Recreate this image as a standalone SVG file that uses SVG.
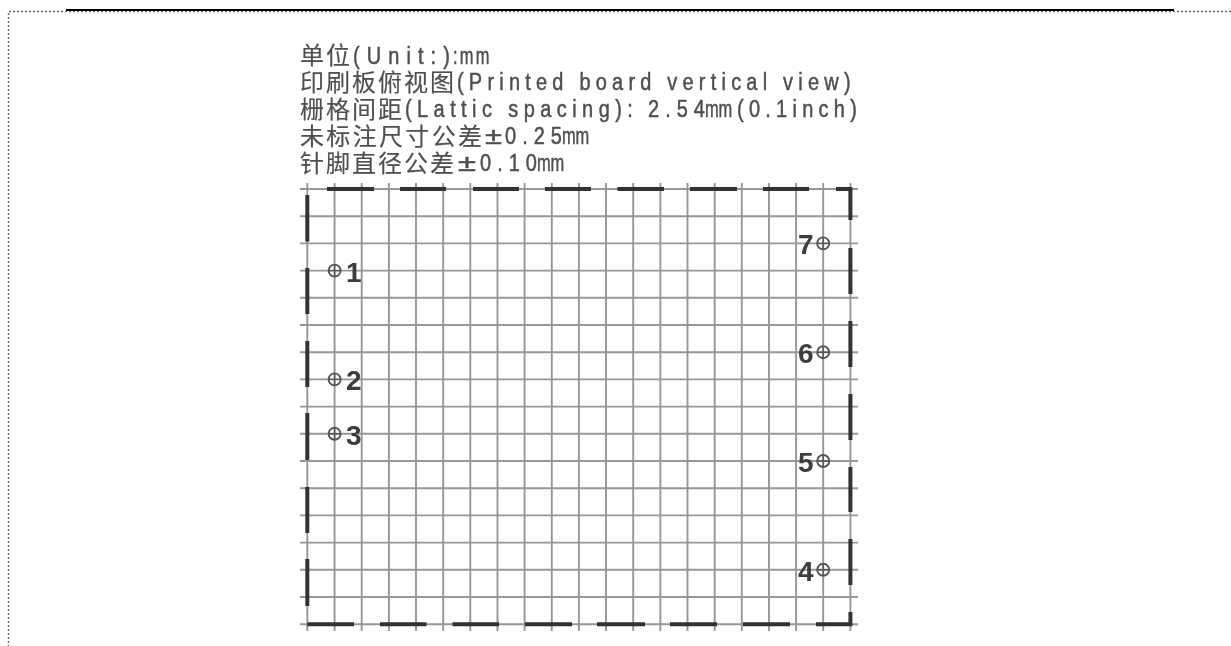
<svg xmlns="http://www.w3.org/2000/svg" width="1231" height="646" viewBox="0 0 1231 646">
<style>
.bg{fill:#fff}
.dot{stroke:#666;stroke-width:1.4;stroke-dasharray:2 2;fill:none}
.top{stroke:#000;stroke-width:2;fill:none}
.grid line{stroke:#97979b;stroke-width:1.9}
.dash{stroke:#333;stroke-width:4;fill:none}
.t{fill:#505050;stroke:#505050;stroke-width:.15}
.c{font-family:"Noto Sans CJK SC",sans-serif;font-size:24px}
.l{font-family:"Liberation Sans",sans-serif;font-size:23.5px;stroke-width:.5}
.n{font-family:"Liberation Sans",sans-serif;font-weight:bold;font-size:28px;fill:#3c3c3c}
.pin circle{fill:none;stroke:#555;stroke-width:1.9}
.pin path{stroke:#555;stroke-width:1.4;fill:none}
</style>
<defs>
<filter id="b" x="-5%" y="-5%" width="110%" height="110%"><feGaussianBlur stdDeviation="0.55"/></filter>
<g id="p" class="pin"><circle r="6"/><path d="M-6 0H6M0-6V6"/></g>
</defs>
<rect class="bg" width="1231" height="646"/>
<g id="page">
<path class="dot" d="M1231 11.500H8.500V646"/>
<path class="top" d="M66 10H1174"/>
</g>
<g filter="url(#b)">
<g id="notes" class="t">
<text class="c" x="300" y="64" textLength="50">单位</text>
<text class="l" transform="translate(353 64) scale(.85 1)" textLength="114">(Unit:)</text>
<text class="l" transform="translate(453 64) scale(.7 1)" textLength="52">:mm</text>
<text class="c" x="300" y="91" textLength="154">印刷板俯视图</text>
<text class="l" transform="translate(457 90) scale(.85 1)" textLength="463">(Printed board vertical view)</text>
<text class="c" x="300" y="118" textLength="102">栅格间距</text>
<text class="l" transform="translate(405 117) scale(.85 1)" textLength="268">(Lattic spacing):</text>
<text class="l" transform="translate(648 117) scale(.85 1)" textLength="67">2.54</text>
<text class="l" transform="translate(705 117) scale(.7 1)" textLength="39">mm</text>
<text class="l" transform="translate(737 117) scale(.85 1)" textLength="141">(0.1inch)</text>
<text class="c" x="300" y="145" textLength="182">未标注尺寸公差</text>
<text class="l" x="485" y="144" textLength="17" lengthAdjust="spacingAndGlyphs">±</text>
<text class="l" transform="translate(505 144) scale(.85 1)" textLength="67">0.25</text>
<text class="l" transform="translate(562 144) scale(.7 1)" textLength="39">mm</text>
<text class="c" x="300" y="172" textLength="154">针脚直径公差</text>
<text class="l" x="458" y="171" textLength="18" lengthAdjust="spacingAndGlyphs">±</text>
<text class="l" transform="translate(480 171) scale(.85 1)" textLength="67">0.10</text>
<text class="l" transform="translate(537 171) scale(.7 1)" textLength="39">mm</text>
</g>
<g id="grid" class="grid">
<line x1="307.3" x2="307.3" y1="183" y2="631"/><line x1="334.6" x2="334.6" y1="183" y2="631"/><line x1="361.7" x2="361.7" y1="183" y2="631"/><line x1="388.9" x2="388.9" y1="183" y2="631"/><line x1="416" x2="416" y1="183" y2="631"/><line x1="443.2" x2="443.2" y1="183" y2="631"/><line x1="470.3" x2="470.3" y1="183" y2="631"/><line x1="497.5" x2="497.5" y1="183" y2="631"/><line x1="524.6" x2="524.6" y1="183" y2="631"/><line x1="551.8" x2="551.8" y1="183" y2="631"/><line x1="578.9" x2="578.9" y1="183" y2="631"/><line x1="606" x2="606" y1="183" y2="631"/><line x1="633.2" x2="633.2" y1="183" y2="631"/><line x1="660.4" x2="660.4" y1="183" y2="631"/><line x1="687.5" x2="687.5" y1="183" y2="631"/><line x1="714.7" x2="714.7" y1="183" y2="631"/><line x1="741.8" x2="741.8" y1="183" y2="631"/><line x1="769" x2="769" y1="183" y2="631"/><line x1="796.1" x2="796.1" y1="183" y2="631"/><line x1="823.2" x2="823.2" y1="183" y2="631"/><line x1="850.4" x2="850.4" y1="183" y2="631"/>
<line x1="300" x2="858" y1="189" y2="189"/><line x1="300" x2="858" y1="216.2" y2="216.2"/><line x1="300" x2="858" y1="243.4" y2="243.4"/><line x1="300" x2="858" y1="270.6" y2="270.6"/><line x1="300" x2="858" y1="297.8" y2="297.8"/><line x1="300" x2="858" y1="325" y2="325"/><line x1="300" x2="858" y1="352.2" y2="352.2"/><line x1="300" x2="858" y1="379.4" y2="379.4"/><line x1="300" x2="858" y1="406.6" y2="406.6"/><line x1="300" x2="858" y1="433.8" y2="433.8"/><line x1="300" x2="858" y1="461" y2="461"/><line x1="300" x2="858" y1="488.2" y2="488.2"/><line x1="300" x2="858" y1="515.4" y2="515.4"/><line x1="300" x2="858" y1="542.6" y2="542.6"/><line x1="300" x2="858" y1="569.8" y2="569.8"/><line x1="300" x2="858" y1="597" y2="597"/><line x1="300" x2="858" y1="624.2" y2="624.2"/>
</g>
<g id="outline">
<path class="dash" d="M327 189H374M400 189H446M473 189H519M545 189H591M617.500 189H664M690 189H737M763 189H809M836 189H850.400V220M850.400 248V294M850.400 321V367M850.400 394V440M850.400 467V512M850.400 539V585M850.400 612V624.200H816M790 624.200H743M717 624.200H670M645 624.200H597M572 624.200H525M499 624.200H452.500M426.500 624.200H380M354 624.200H307.300M307.300 606V559M307.300 533V487M307.300 460V413M307.300 387V341M307.300 314V268M307.300 241.500V195"/>
</g>
<g id="pin1"><use href="#p" x="334.6" y="270.6"/><text class="n" x="346" y="282">1</text></g>
<g id="pin2"><use href="#p" x="334.6" y="379.4"/><text class="n" x="346" y="390">2</text></g>
<g id="pin3"><use href="#p" x="334.6" y="433.800"/><text class="n" x="346" y="445">3</text></g>
<g id="pin4"><use href="#p" x="823.2" y="569.800"/><text class="n" x="798" y="581">4</text></g>
<g id="pin5"><use href="#p" x="823.2" y="461"/><text class="n" x="798" y="472">5</text></g>
<g id="pin6"><use href="#p" x="823.2" y="352.200"/><text class="n" x="798" y="363">6</text></g>
<g id="pin7"><use href="#p" x="823.2" y="243.400"/><text class="n" x="798" y="254">7</text></g>
</g>
</svg>
